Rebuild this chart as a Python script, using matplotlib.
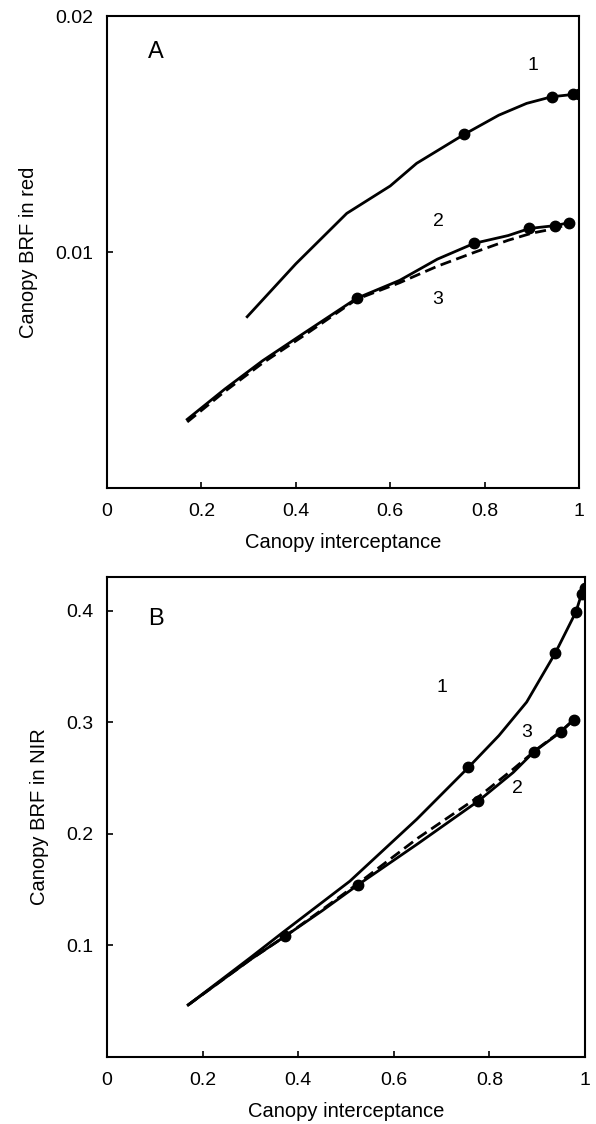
import matplotlib
matplotlib.use("Agg")
import matplotlib.pyplot as plt
from matplotlib.ticker import FixedLocator, FuncFormatter

plt.rcParams['font.family'] = ['Liberation Sans', 'DejaVu Sans']

# Panel A: canopy BRF in red
a1_x = [0.297, 0.40, 0.508, 0.60, 0.656, 0.757, 0.83, 0.889, 0.942, 0.988, 1.0]
a1_y = [0.00726, 0.0095, 0.01164, 0.0128, 0.01376, 0.01499, 0.0158, 0.0163, 0.01658, 0.01668, 0.01668]
a1_mx = [0.757, 0.942, 0.988, 1.0]
a1_my = [0.01499, 0.01658, 0.01668, 0.01668]

a2_x = [0.17, 0.25, 0.33, 0.42, 0.529, 0.62, 0.70, 0.778, 0.85, 0.895, 0.949, 0.978]
a2_y = [0.00291, 0.0042, 0.0054, 0.0066, 0.00804, 0.0088, 0.0097, 0.01037, 0.0107, 0.0110, 0.01112, 0.01124]
a2_mx = [0.529, 0.778, 0.895, 0.949, 0.978]
a2_my = [0.00804, 0.01037, 0.0110, 0.01112, 0.01124]

a3_x = [0.17, 0.25, 0.33, 0.42, 0.529, 0.62, 0.70, 0.78, 0.85, 0.90, 0.95, 0.978]
a3_y = [0.0028, 0.0041, 0.0053, 0.0065, 0.0080, 0.0087, 0.0094, 0.0100, 0.0105, 0.0108, 0.0110, 0.0112]

# Panel B: canopy BRF in NIR
b1_x = [0.17, 0.299, 0.369, 0.508, 0.648, 0.756, 0.82, 0.878, 0.938, 0.981, 0.993, 1.0]
b1_y = [0.0467, 0.0887, 0.112, 0.1575, 0.213, 0.2594, 0.288, 0.318, 0.362, 0.3987, 0.415, 0.42]
b1_mx = [0.756, 0.938, 0.981, 0.993, 1.0]
b1_my = [0.2594, 0.362, 0.3987, 0.415, 0.42]

b2_x = [0.17, 0.299, 0.372, 0.45, 0.526, 0.65, 0.777, 0.85, 0.893, 0.95, 0.976]
b2_y = [0.0467, 0.087, 0.108, 0.131, 0.1545, 0.191, 0.2294, 0.255, 0.2734, 0.2914, 0.302]
b2_mx = [0.372, 0.526, 0.777, 0.893, 0.950, 0.976]
b2_my = [0.108, 0.1545, 0.2294, 0.2734, 0.2914, 0.302]

b3_x = [0.17, 0.299, 0.372, 0.45, 0.53, 0.65, 0.78, 0.85, 0.90, 0.95, 0.976]
b3_y = [0.0467, 0.087, 0.108, 0.132, 0.157, 0.196, 0.234, 0.258, 0.276, 0.292, 0.302]

x_ticks = [0, 0.2, 0.4, 0.6, 0.8, 1.0]


def fmt(v, pos):
    return f"{v:g}"


fig = plt.figure(figsize=(5.96, 11.24), dpi=100)
ax_a = fig.add_axes([0.1795, 0.5658, 0.792, 0.4199])
ax_b = fig.add_axes([0.1795, 0.0596, 0.802, 0.427])

lw = 2.0
ms = 7.5

# panel A
ax_a.plot(a1_x, a1_y, color='black', lw=lw)
ax_a.plot(a1_mx, a1_my, 'o', color='black', ms=ms)
ax_a.plot(a2_x, a2_y, color='black', lw=lw)
ax_a.plot(a2_mx, a2_my, 'o', color='black', ms=ms)
ax_a.plot(a3_x, a3_y, color='black', lw=lw, ls=(0, (4, 2)))
ax_a.set_xlim(0, 1)
ax_a.set_ylim(0, 0.02)
ax_a.yaxis.set_major_locator(FixedLocator([0.01, 0.02]))
ax_a.set_ylabel("Canopy BRF in red", fontsize=14.5, labelpad=12)
ax_a.text(0.104, 0.01849, "A", fontsize=17, ha='center', va='center')
ax_a.text(0.903, 0.01792, "1", fontsize=14, ha='center', va='center')
ax_a.text(0.702, 0.01128, "2", fontsize=14, ha='center', va='center')
ax_a.text(0.700, 0.00797, "3", fontsize=14, ha='center', va='center')

# panel B
ax_b.plot(b1_x, b1_y, color='black', lw=lw)
ax_b.plot(b1_mx, b1_my, 'o', color='black', ms=ms)
ax_b.plot(b2_x, b2_y, color='black', lw=lw)
ax_b.plot(b2_mx, b2_my, 'o', color='black', ms=ms)
ax_b.plot(b3_x, b3_y, color='black', lw=lw, ls=(0, (4, 2)))
ax_b.set_xlim(0, 1)
ax_b.set_ylim(0, 0.43)
ax_b.yaxis.set_major_locator(FixedLocator([0.1, 0.2, 0.3, 0.4]))
ax_b.set_ylabel("Canopy BRF in NIR", fontsize=14.5, labelpad=12)
ax_b.text(0.1025, 0.392, "B", fontsize=17, ha='center', va='center')
ax_b.text(0.700, 0.331, "1", fontsize=14, ha='center', va='center')
ax_b.text(0.879, 0.291, "3", fontsize=14, ha='center', va='center')
ax_b.text(0.859, 0.2405, "2", fontsize=14, ha='center', va='center')

for ax in (ax_a, ax_b):
    ax.xaxis.set_major_locator(FixedLocator(x_ticks))
    ax.xaxis.set_major_formatter(FuncFormatter(fmt))
    ax.yaxis.set_major_formatter(FuncFormatter(fmt))
    ax.tick_params(direction='in', length=4, width=1.2, labelsize=14)
    ax.tick_params(axis='x', pad=11)
    ax.tick_params(axis='y', pad=10)
    ax.set_xlabel("Canopy interceptance", fontsize=14.5, labelpad=9)
    for s in ax.spines.values():
        s.set_linewidth(1.5)

fig.savefig("out.png", dpi=100)
